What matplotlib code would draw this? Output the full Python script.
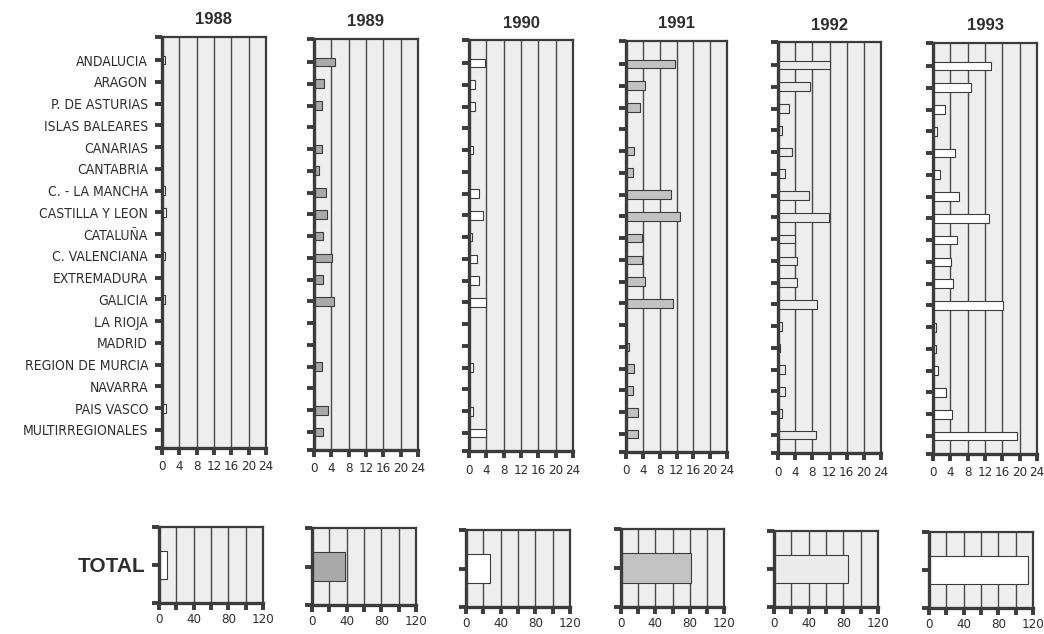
import matplotlib
matplotlib.use('Agg')
import matplotlib.pyplot as plt
from matplotlib import font_manager

regions = ['ANDALUCIA', 'ARAGON', 'P. DE ASTURIAS', 'ISLAS BALEARES', 'CANARIAS',
           'CANTABRIA', 'C. - LA MANCHA', 'CASTILLA Y LEON', 'CATALUÑA',
           'C. VALENCIANA', 'EXTREMADURA', 'GALICIA', 'LA RIOJA', 'MADRID',
           'REGION DE MURCIA', 'NAVARRA', 'PAIS VASCO', 'MULTIRREGIONALES']
years = ['1988', '1989', '1990', '1991', '1992', '1993']

v1988 = [0.8, 0, 0, 0, 0, 0, 0.8, 1.0, 0, 0.8, 0, 0.8, 0, 0, 0, 0, 0.9, 0]
v1989 = [4.8, 2.3, 1.8, 0, 1.9, 1.2, 2.7, 3.1, 2.1, 4.2, 2.1, 4.6, 0, 0, 1.9, 0, 3.2, 2.0]
v1990 = [3.6, 1.4, 1.4, 0, 0.9, 0, 2.3, 3.2, 0.7, 1.8, 2.2, 4.0, 0, 0, 1.0, 0, 1.0, 3.9]
v1991 = [11.7, 4.4, 3.4, 0, 1.8, 1.6, 10.6, 12.8, 3.8, 3.9, 4.4, 11.2, 0, 0.8, 1.8, 1.6, 2.8, 2.9]
v1992 = [12.1, 7.5, 2.6, 0.9, 3.2, 1.7, 7.3, 11.9, 3.9, 4.4, 4.4, 9.0, 0.9, 0.5, 1.7, 1.7, 0.9, 8.8]
v1993 = [13.4, 8.8, 2.8, 1.0, 5.1, 1.7, 5.9, 13.0, 5.6, 4.1, 4.6, 16.1, 0.6, 0.6, 1.2, 2.9, 4.4, 19.3]
totals = [9, 38, 28, 81, 85, 114]

series = [v1988, v1989, v1990, v1991, v1992, v1993]
fills = ['white', '#a9a9a9', 'white', '#c2c2c2', '#ebebeb', 'white']

# look for a condensed face for the tick labels, the scan uses a narrow grotesque
installed = {(f.name, f.stretch) for f in font_manager.fontManager.ttflist}
names = {n for n, s in installed}
if 'Liberation Sans Narrow' in names:
    narrow = dict(family='Liberation Sans Narrow')
    tick_size, cat_size = 10.5, 10.5
elif ('DejaVu Sans', 'condensed') in installed or ('DejaVu Sans', 'semi-condensed') in installed:
    narrow = dict(family='DejaVu Sans', stretch='condensed')
    tick_size, cat_size = 9.5, 10
else:
    narrow = dict(family='Liberation Sans')
    tick_size, cat_size = 8, 9.5
bold = ['Liberation Sans', 'DejaVu Sans']

W, H = 1044, 634
fig = plt.figure(figsize=(W / 100, H / 100), dpi=100)

# pixel boxes (left, top, right, bottom)
top_boxes = [(162, 37, 266, 448), (314, 39, 418, 450), (469, 40, 573, 451),
             (626, 41, 727, 452), (778, 42, 881, 453), (933, 43, 1037, 454)]
bot_boxes = [(159, 527, 263, 603), (312, 528, 416, 605), (466, 530, 570, 607),
             (621, 529, 724, 607), (774, 531, 878, 607), (929, 532, 1033, 608)]

EDGE = '#3c3c3c'
BG = '#eeeeee'
TXT = '#2e2e2e'


def make_ax(box):
    l, t, r, b = box
    return fig.add_axes([l / W, 1 - b / H, (r - l) / W, (b - t) / H])


def style(ax):
    ax.set_facecolor(BG)
    ax.set_axisbelow(True)
    ax.grid(axis='x', color='#4a4a4a', linewidth=1.0)
    ax.grid(axis='y', visible=False)
    for side in ['left', 'bottom']:
        ax.spines[side].set_linewidth(2.4)
        ax.spines[side].set_color(EDGE)
    for side in ['top', 'right']:
        ax.spines[side].set_linewidth(1.6)
        ax.spines[side].set_color(EDGE)
    ax.tick_params(which='both', direction='out', length=5, width=2.8, color=EDGE,
                   labelcolor=TXT)


ypos = list(range(len(regions)))
ylo, yhi = 17.83, -1.06

for i, year in enumerate(years):
    ax = make_ax(top_boxes[i])
    style(ax)
    ax.barh(ypos, series[i], height=0.4, color=fills[i], edgecolor=EDGE, linewidth=0.8)
    ax.set_xlim(0, 24)
    ax.set_ylim(ylo, yhi)
    ax.set_xticks(range(0, 25, 4))
    ax.set_xticklabels([str(t) for t in range(0, 25, 4)], fontsize=tick_size, **narrow)
    ax.tick_params(axis='x', pad=4)
    ax.set_yticks(ypos)
    ax.set_yticks([yhi, ylo], minor=True)
    if i == 0:
        ax.set_yticklabels(regions, fontsize=cat_size, **narrow)
        ax.tick_params(axis='y', pad=5)
    else:
        ax.set_yticklabels([])
    ax.set_title(year, fontsize=12, fontweight='bold', family=bold, color=TXT, pad=9)

    bx = make_ax(bot_boxes[i])
    style(bx)
    bx.barh([0], [totals[i]], height=0.75, color=fills[i], edgecolor=EDGE, linewidth=0.8)
    bx.set_xlim(0, 120)
    bx.set_ylim(-1, 1)
    bx.set_xticks(range(0, 121, 20))
    bx.set_xticklabels(['0', '', '40', '', '80', '', '120'], fontsize=tick_size, **narrow)
    bx.tick_params(axis='x', pad=2.5)
    bx.set_yticks([0])
    bx.set_yticks([-1, 1], minor=True)
    if i == 0:
        bx.set_yticklabels(['TOTAL'], fontsize=15, fontweight='bold', family=bold, color=TXT)
        bx.tick_params(axis='y', pad=5)
    else:
        bx.set_yticklabels([])

fig.savefig('out.png', dpi=100)
